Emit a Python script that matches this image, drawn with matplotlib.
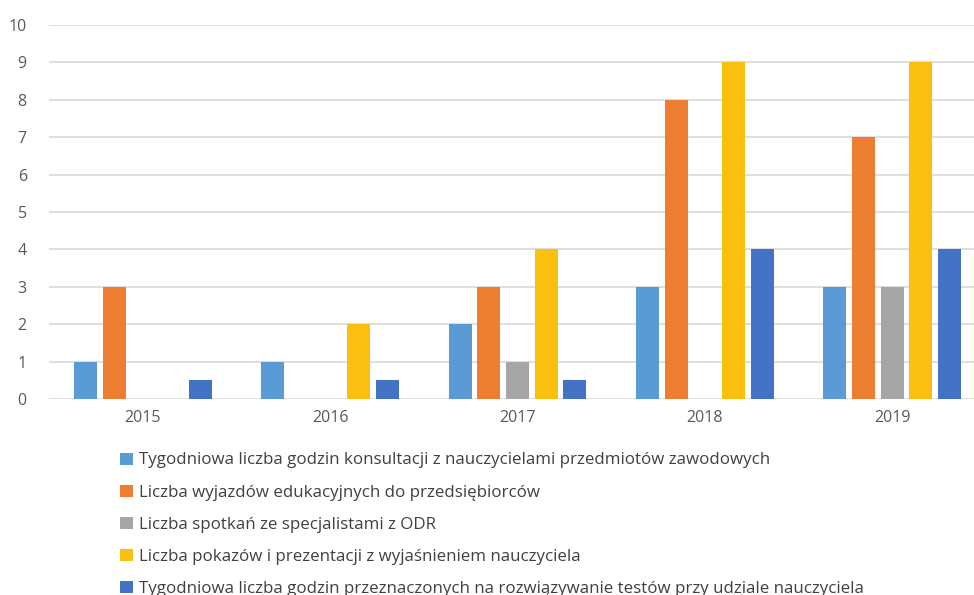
import numpy as np
import matplotlib.pyplot as plt

plt.rcParams['font.family'] = ['Open Sans', 'DejaVu Sans']

years = ['2015', '2016', '2017', '2018', '2019']
series_names = [
    'Tygodniowa liczba godzin konsultacji z nauczycielami przedmiotów zawodowych',
    'Liczba wyjazdów edukacyjnych do przedsiębiorców',
    'Liczba spotkań ze specjalistami z ODR',
    'Liczba pokazów i prezentacji z wyjaśnieniem nauczyciela',
    'Tygodniowa liczba godzin przeznaczonych na rozwiązywanie testów przy udziale nauczyciela',
]
konsultacje = [1, 1, 2, 3, 3]
wyjazdy = [3, 0, 3, 8, 7]
spotkania = [0, 0, 1, 0, 3]
pokazy = [0, 2, 4, 9, 9]
testy = [0.5, 0.5, 0.5, 4, 4]
colors = ['#5B9BD5', '#ED7D31', '#A5A5A5', '#FBC00F', '#4472C4']

all_series = [konsultacje, wyjazdy, spotkania, pokazy, testy]

fig = plt.figure(figsize=(9.74, 5.95), dpi=100)
# axes runs a bit past the right edge, like the cropped original
ax = fig.add_axes([49 / 974, 1 - 399 / 595, 937 / 974, 374 / 595])

x = np.arange(len(years))
step = 0.153
width = 0.123
handles = []
for k, (vals, c) in enumerate(zip(all_series, colors)):
    b = ax.bar(x + (k - 2) * step, vals, width=width, color=c, zorder=3)
    handles.append(b)

ax.set_xlim(-0.5, 4.5)
ax.set_ylim(0, 10)
ax.set_yticks(range(0, 11))
ax.set_xticks(x)
ax.set_xticklabels(years)
ax.grid(True, axis='y', color='#D9D9D9', linewidth=1.2, zorder=0)
for s in ax.spines.values():
    s.set_visible(False)
ax.tick_params(length=0, labelsize=11.5, colors='#595959')
ax.tick_params(axis='y', pad=16)
ax.tick_params(axis='x', pad=8)

# last legend row sits at the bottom edge, as in the original
fig.legend(handles, series_names, loc='upper left', bbox_to_anchor=(112 / 974, 1 - 444 / 595),
           frameon=False, fontsize=12.2, labelcolor='#404040', handlelength=0.72,
           handleheight=0.72, handletextpad=0.35, labelspacing=0.95, borderpad=0)

fig.savefig('out.png', dpi=100)
